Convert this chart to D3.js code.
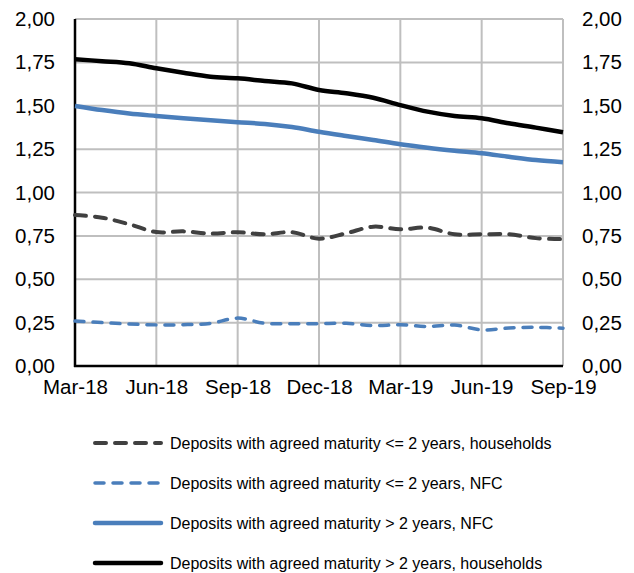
<!DOCTYPE html>
<html>
<head>
<meta charset="utf-8">
<script src="https://cdn.jsdelivr.net/npm/d3@7"></script>
<style>
body { margin: 0; background: #fff; }
text { font-family: "Liberation Sans", Arial, sans-serif; }
</style>
</head>
<body>
<svg id="chart" width="634" height="573"></svg>
<script>
const months = ["Mar-18","Apr-18","May-18","Jun-18","Jul-18","Aug-18","Sep-18","Oct-18","Nov-18","Dec-18","Jan-19","Feb-19","Mar-19","Apr-19","May-19","Jun-19","Jul-19","Aug-19","Sep-19"];
const tickMonths = ["Mar-18","Jun-18","Sep-18","Dec-18","Mar-19","Jun-19","Sep-19"];
const yTicks = [0, 0.25, 0.5, 0.75, 1, 1.25, 1.5, 1.75, 2];

const hhShort  = [0.870,0.855,0.817,0.772,0.776,0.763,0.771,0.759,0.771,0.734,0.765,0.803,0.788,0.797,0.759,0.759,0.759,0.737,0.731];
const nfcShort = [0.259,0.250,0.242,0.237,0.238,0.246,0.276,0.246,0.244,0.244,0.246,0.233,0.238,0.228,0.236,0.208,0.219,0.223,0.218];
const nfcLong  = [1.499,1.475,1.455,1.441,1.428,1.416,1.405,1.395,1.377,1.350,1.326,1.303,1.278,1.258,1.241,1.226,1.206,1.187,1.174];
const hhLong   = [1.768,1.757,1.745,1.716,1.690,1.667,1.658,1.643,1.629,1.591,1.572,1.546,1.504,1.466,1.441,1.428,1.399,1.374,1.347];

const seriesNames = [
  "Deposits with agreed maturity <= 2 years, households",
  "Deposits with agreed maturity <= 2 years, NFC",
  "Deposits with agreed maturity > 2 years, NFC",
  "Deposits with agreed maturity > 2 years, households"
];
const seriesData = [hhShort, nfcShort, nfcLong, hhLong];
const styles = [
  {color:"#404040", width:4, dash:"11,9"},
  {color:"#4a7ebb", width:3.5, dash:"9,9"},
  {color:"#4a7ebb", width:4.5, dash:null},
  {color:"#000000", width:4.5, dash:null}
];

const svg = d3.select("#chart");
const L = 75, R = 563, T = 19, B = 366;
const x = d3.scalePoint().domain(months).range([L, R]);
const y = d3.scaleLinear().domain([0, 2]).range([B, T]);
const fmt = d => d.toFixed(2).replace(".", ",");

// gridlines
svg.append("g").selectAll("line").data(yTicks).join("line")
  .attr("x1", L).attr("x2", R).attr("y1", d => y(d)).attr("y2", d => y(d))
  .attr("stroke", "#bfbfbf").attr("stroke-width", 2);
svg.append("g").selectAll("line").data(tickMonths).join("line")
  .attr("x1", d => x(d)).attr("x2", d => x(d)).attr("y1", T).attr("y2", B)
  .attr("stroke", "#bfbfbf").attr("stroke-width", 2);

// axes
const yLeft = svg.append("g").attr("transform", `translate(${L},0)`)
  .call(d3.axisLeft(y).tickValues(yTicks).tickFormat(fmt).tickSize(0).tickPadding(20));
const yRight = svg.append("g").attr("transform", `translate(${R},0)`)
  .call(d3.axisRight(y).tickValues(yTicks).tickFormat(fmt).tickSize(0).tickPadding(19));
const xAxis = svg.append("g").attr("transform", `translate(0,${B})`)
  .call(d3.axisBottom(x).tickValues(tickMonths).tickSize(0).tickPadding(13));
[yLeft, yRight, xAxis].forEach(g => {
  g.select(".domain").remove();
  g.selectAll("text").attr("font-size", 20.5).attr("fill", "#000")
    .attr("font-family", "'Liberation Sans', Arial, sans-serif");
});

// axis lines
svg.append("line").attr("x1", L).attr("x2", L).attr("y1", T).attr("y2", B + 1)
  .attr("stroke", "#000").attr("stroke-width", 2.5);
svg.append("line").attr("x1", L - 1).attr("x2", R).attr("y1", B).attr("y2", B)
  .attr("stroke", "#000").attr("stroke-width", 2.5);

// lines
const line = d3.line().x((d, i) => x(months[i])).y(d => y(d)).curve(d3.curveCatmullRom.alpha(0));
seriesData.forEach((s, k) => {
  const p = svg.append("path").datum(s).attr("d", line)
    .attr("fill", "none").attr("stroke", styles[k].color)
    .attr("stroke-width", styles[k].width).attr("stroke-linejoin", "round");
  if (styles[k].dash) p.attr("stroke-dasharray", styles[k].dash).attr("stroke-linecap", "round");
});

// legend
const lg = svg.append("g");
const rowY = [443, 483, 523, 563];
seriesNames.forEach((name, k) => {
  const g = lg.append("g").attr("transform", `translate(0,${rowY[k]})`);
  const l = g.append("line").attr("x1", 95).attr("x2", 161).attr("y1", 0).attr("y2", 0)
    .attr("stroke", styles[k].color).attr("stroke-width", styles[k].width);
  if (styles[k].dash) l.attr("stroke-dasharray", styles[k].dash).attr("stroke-linecap", "round");
  else l.attr("stroke-linecap", "round");
  g.append("text").attr("x", 170).attr("y", 5.5).attr("font-size", 16).attr("fill", "#000").text(name);
});
</script>
</body>
</html>
